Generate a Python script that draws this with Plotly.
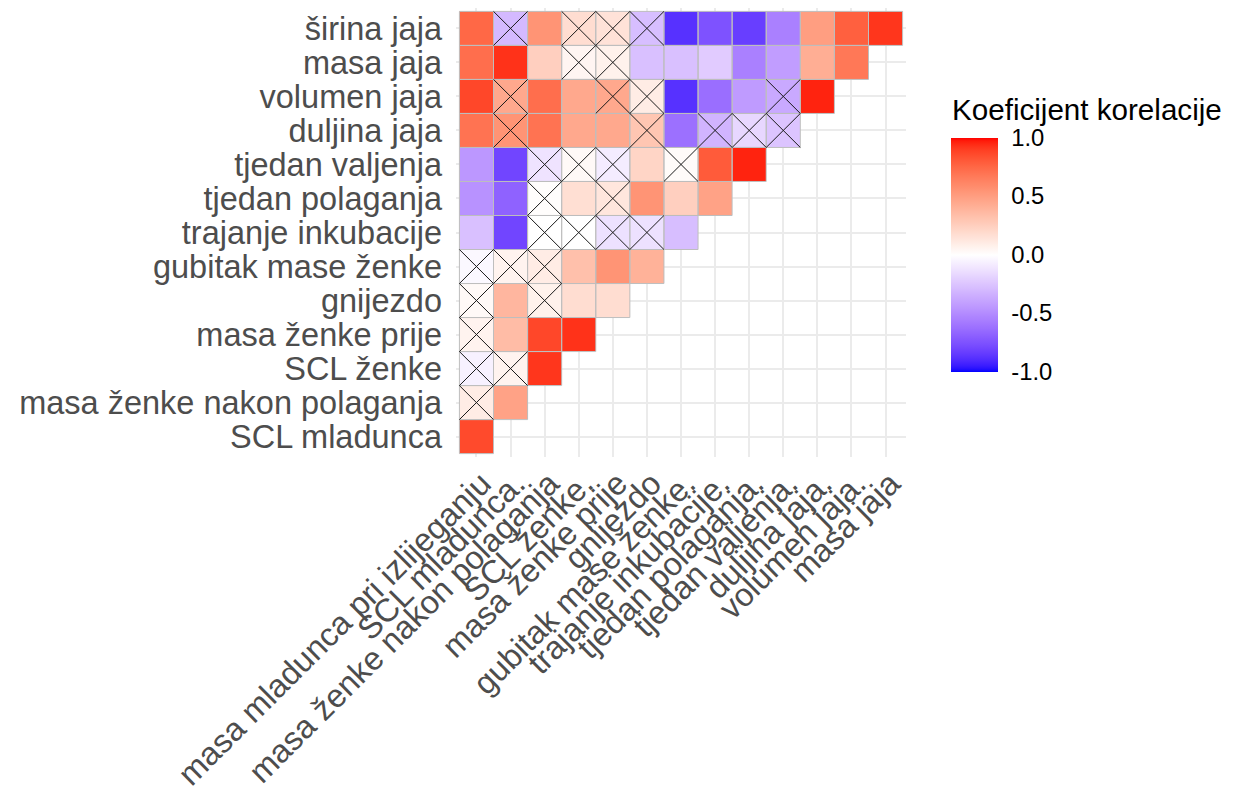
import numpy as np
import plotly.graph_objects as go

# Variable names (rows from top to bottom, columns from left to right)
row_labels = [
    "širina jaja", "masa jaja", "volumen jaja", "duljina jaja",
    "tjedan valjenja", "tjedan polaganja", "trajanje inkubacije",
    "gubitak mase ženke", "gnijezdo", "masa ženke prije", "SCL ženke",
    "masa ženke nakon polaganja", "SCL mladunca",
]
col_labels = [
    "masa mladunca pri izlijeganju", "SCL mladunca.", "masa ženke nakon polaganja",
    "SCL ženke.", "masa ženke prije", "gnijezdo", "gubitak mase ženke.",
    "trajanje inkubacije.", "tjedan polaganja.", "tjedan valjenja.",
    "duljina jaja.", "volumen jaja.", "masa jaja",
]

# Correlation coefficients, lower triangle, one list per row
r_sirina_jaja = [0.75, -0.30, 0.55, 0.18, 0.15, -0.28, -0.88, -0.75, -0.83, -0.55, 0.50, 0.78, 0.92]
r_masa_jaja = [0.72, 0.93, 0.25, 0.05, 0.07, -0.27, -0.27, -0.22, -0.55, -0.42, 0.42, 0.68]
r_volumen_jaja = [0.87, 0.45, 0.72, 0.45, 0.45, 0.10, -0.88, -0.63, -0.43, -0.37, 0.96]
r_duljina_jaja = [0.70, 0.55, 0.70, 0.45, 0.45, 0.30, -0.62, -0.32, -0.17, -0.25]
r_tjedan_valjenja = [-0.45, -0.80, -0.12, 0.03, -0.08, 0.22, 0.02, 0.80, 0.96]
r_tjedan_polaganja = [-0.47, -0.68, 0.01, 0.17, 0.13, 0.55, 0.25, 0.48]
r_trajanje_inkubacije = [-0.27, -0.80, 0.00, 0.00, -0.13, -0.13, -0.28]
r_gubitak_mase = [-0.03, 0.06, 0.10, 0.33, 0.55, 0.40]
r_gnijezdo = [0.03, 0.38, 0.07, 0.18, 0.18]
r_masa_zenke_prije = [0.06, 0.35, 0.87, 0.93]
r_scl_zenke = [-0.06, 0.06, 0.92]
r_masa_zenke_nakon = [0.10, 0.48]
r_scl_mladunca = [0.86]

# 1 = not significant (crossed out)
ns_sirina_jaja = [0, 1, 0, 1, 1, 1, 0, 0, 0, 0, 0, 0, 0]
ns_masa_jaja = [0, 0, 0, 1, 1, 0, 0, 0, 0, 0, 0, 0]
ns_volumen_jaja = [0, 1, 0, 0, 1, 1, 0, 0, 0, 1, 0]
ns_duljina_jaja = [0, 1, 0, 0, 0, 1, 0, 1, 1, 1]
ns_tjedan_valjenja = [0, 0, 1, 1, 1, 0, 1, 0, 0]
ns_tjedan_polaganja = [0, 0, 1, 0, 1, 0, 0, 0]
ns_trajanje_inkubacije = [0, 0, 1, 1, 1, 1, 0]
ns_gubitak_mase = [1, 1, 1, 0, 0, 0]
ns_gnijezdo = [1, 0, 1, 0, 0]
ns_masa_zenke_prije = [1, 0, 0, 0]
ns_scl_zenke = [1, 1, 0]
ns_masa_zenke_nakon = [1, 0]
ns_scl_mladunca = [0]

corr_rows = [r_sirina_jaja, r_masa_jaja, r_volumen_jaja, r_duljina_jaja,
             r_tjedan_valjenja, r_tjedan_polaganja, r_trajanje_inkubacije,
             r_gubitak_mase, r_gnijezdo, r_masa_zenke_prije, r_scl_zenke,
             r_masa_zenke_nakon, r_scl_mladunca]
ns_rows = [ns_sirina_jaja, ns_masa_jaja, ns_volumen_jaja, ns_duljina_jaja,
           ns_tjedan_valjenja, ns_tjedan_polaganja, ns_trajanje_inkubacije,
           ns_gubitak_mase, ns_gnijezdo, ns_masa_zenke_prije, ns_scl_zenke,
           ns_masa_zenke_nakon, ns_scl_mladunca]

legend_title = "Koeficijent korelacije"
legend_ticks = [-1, -0.5, 0, 0.5, 1]


# ---- diverging blue-white-red scale, interpolated in CIELAB ----
def _to_lin(c):
    c = c / 255.0
    return np.where(c <= 0.04045, c / 12.92, ((c + 0.055) / 1.055) ** 2.4)


def _from_lin(c):
    c = np.where(c <= 0.0031308, 12.92 * c, 1.055 * np.clip(c, 0, None) ** (1 / 2.4) - 0.055)
    return np.clip(np.round(c * 255), 0, 255).astype(int)


M = np.array([[0.4124, 0.3576, 0.1805], [0.2126, 0.7152, 0.0722], [0.0193, 0.1192, 0.9505]])
M_inv = np.linalg.inv(M)
WHITE = np.array([0.95047, 1.0, 1.08883])


def rgb_to_lab(rgb):
    xyz = M @ _to_lin(np.array(rgb, float)) / WHITE
    f = np.where(xyz > (6 / 29) ** 3, np.cbrt(xyz), xyz / (3 * (6 / 29) ** 2) + 4 / 29)
    return np.array([116 * f[1] - 16, 500 * (f[0] - f[1]), 200 * (f[1] - f[2])])


def lab_to_rgb(lab):
    fy = (lab[0] + 16) / 116
    f = np.array([fy + lab[1] / 500, fy, fy - lab[2] / 200])
    xyz = np.where(f > 6 / 29, f ** 3, 3 * (6 / 29) ** 2 * (f - 4 / 29)) * WHITE
    return _from_lin(M_inv @ xyz)


LOW, MID, HIGH = rgb_to_lab((0, 0, 255)), rgb_to_lab((255, 255, 255)), rgb_to_lab((255, 0, 0))
colorscale = []
for v in np.linspace(-1, 1, 81):
    lab = MID + (LOW - MID) * (-v) if v < 0 else MID + (HIGH - MID) * v
    r, g, b = lab_to_rgb(lab)
    colorscale.append([(v + 1) / 2, f"rgb({r},{g},{b})"])

# ---- matrix for the heatmap (y index 0 = bottom row) ----
n = len(row_labels)
z = [[None] * n for _ in range(n)]
tile_x, tile_y, cross_x, cross_y = [], [], [], []
for r, (vals, ns) in enumerate(zip(corr_rows, ns_rows)):
    yi = n - 1 - r
    for c, (v, s) in enumerate(zip(vals, ns)):
        z[yi][c] = v
        x0, x1, y0, y1 = c - 0.5, c + 0.5, yi - 0.5, yi + 0.5
        tile_x += [x0, x1, x1, x0, x0, None]
        tile_y += [y0, y0, y1, y1, y0, None]
        if s:
            cross_x += [x0, x1, None, x0, x1, None]
            cross_y += [y0, y1, None, y1, y0, None]

FONT = "Liberation Sans, Arial, sans-serif"

# plot-area geometry in pixels
W, H = 1234, 791
PL, PR, PT, PB = 455.6, 906.4, 8.3, 457.4
pw, ph = PR - PL, PB - PT

fig = go.Figure()
fig.add_trace(go.Heatmap(
    z=z, x=list(range(n)), y=list(range(n)),
    zmin=-1, zmax=1, colorscale=colorscale, hoverongaps=False,
    colorbar=dict(
        thickness=47, thicknessmode="pixels", len=234, lenmode="pixels",
        x=(951.7 - PL) / pw, xanchor="left", xpad=0,
        y=(PB - 255) / ph, yanchor="middle", ypad=0,
        tickvals=legend_ticks, ticktext=[f"{t:.1f}" for t in legend_ticks],
        ticks="outside", ticklen=9, tickcolor="rgba(0,0,0,0)",
        tickfont=dict(size=23.8, color="black", family=FONT),
        outlinewidth=0,
    ),
))
fig.add_trace(go.Scatter(x=tile_x, y=tile_y, mode="lines",
                         line=dict(color="#BEBEBE", width=1), hoverinfo="skip", showlegend=False))
fig.add_trace(go.Scatter(x=cross_x, y=cross_y, mode="lines",
                         line=dict(color="#1a1a1a", width=1), hoverinfo="skip", showlegend=False))

fig.add_annotation(
    text=legend_title, xref="paper", yref="paper",
    x=(951 - PL) / pw, y=(PB - 92) / ph, xanchor="left", yanchor="top",
    showarrow=False, font=dict(size=29.6, color="black", family=FONT),
    borderpad=0,
)

axis_common = dict(range=[-0.6, n - 0.4], tickvals=list(range(n)), showgrid=True,
                   gridcolor="#EBEBEB", gridwidth=2, zeroline=False, showline=False,
                   ticks="", tickfont=dict(size=32.5, color="#4D4D4D", family=FONT))
fig.update_layout(
    width=W, height=H, autosize=False,
    margin=dict(l=PL, r=W - PR, t=PT, b=H - PB, pad=0),
    plot_bgcolor="white", paper_bgcolor="white",
    xaxis=dict(**axis_common, ticktext=col_labels, tickangle=-45, automargin=False,
               ticklabelshift=5, ticklabelstandoff=0),
    yaxis=dict(**axis_common, ticktext=row_labels[::-1], automargin=False, ticklabelstandoff=13),
    showlegend=False,
)
fig.write_html("out.html")
